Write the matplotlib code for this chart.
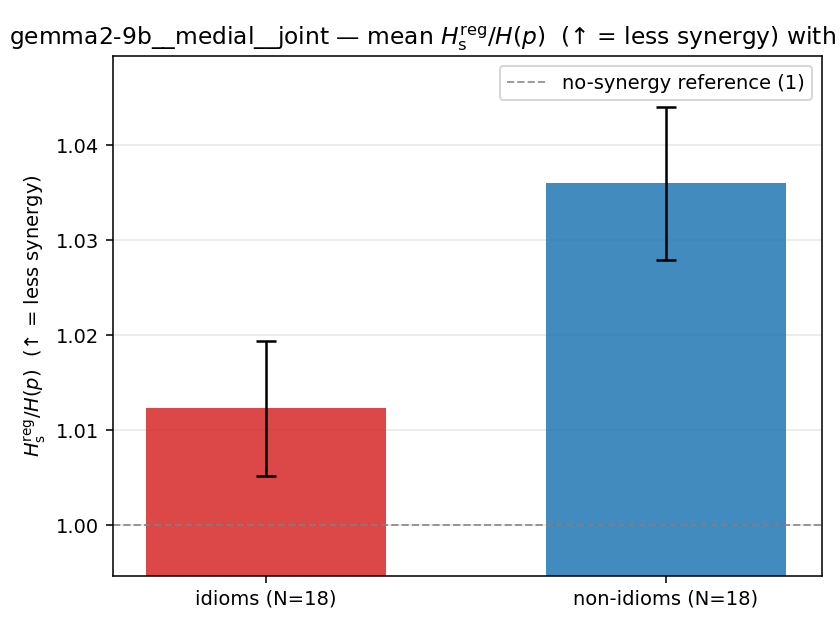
import numpy as np
import matplotlib.pyplot as plt

groups = ['idioms (N=18)', 'non-idioms (N=18)']
means = [1.0123, 1.0360]
err_low = [1.0052, 1.0279]
err_high = [1.0194, 1.0440]
colors = ['#d62728', '#1f77b4']

lo = np.array(means) - np.array(err_low)
hi = np.array(err_high) - np.array(means)

fig = plt.figure(figsize=(6, 4.5), dpi=140)
ax = fig.add_axes([0.1345, 0.0857, 0.8441, 0.8254])

x = np.arange(len(groups))
ax.bar(x, means, width=0.6, color=colors, alpha=0.85,
       yerr=[lo, hi], capsize=5, error_kw=dict(elinewidth=1.3, capthick=1.3, ecolor='black'))
ax.axhline(1.0, color='gray', linestyle='--', linewidth=1, alpha=0.8, label='no-synergy reference (1)')
ax.set_xticks(x)
ax.set_xticklabels(groups)
ax.set_ylim(0.99463, 1.0494)
ax.set_xlim(-0.3825, 1.39)
ax.set_yticks([1.00, 1.01, 1.02, 1.03, 1.04])
ax.yaxis.grid(True, alpha=0.3)
ax.set_axisbelow(True)
ax.set_ylabel(r'$H_{\mathrm{s}}^{\mathrm{reg}}/H(p)$  (↑ = less synergy)')
ax.set_title(r'gemma2-9b__medial__joint — mean $H_{\mathrm{s}}^{\mathrm{reg}}/H(p)$  (↑ = less synergy) with 95% CI')
ax.legend(loc='upper right')

fig.savefig('out.png')
